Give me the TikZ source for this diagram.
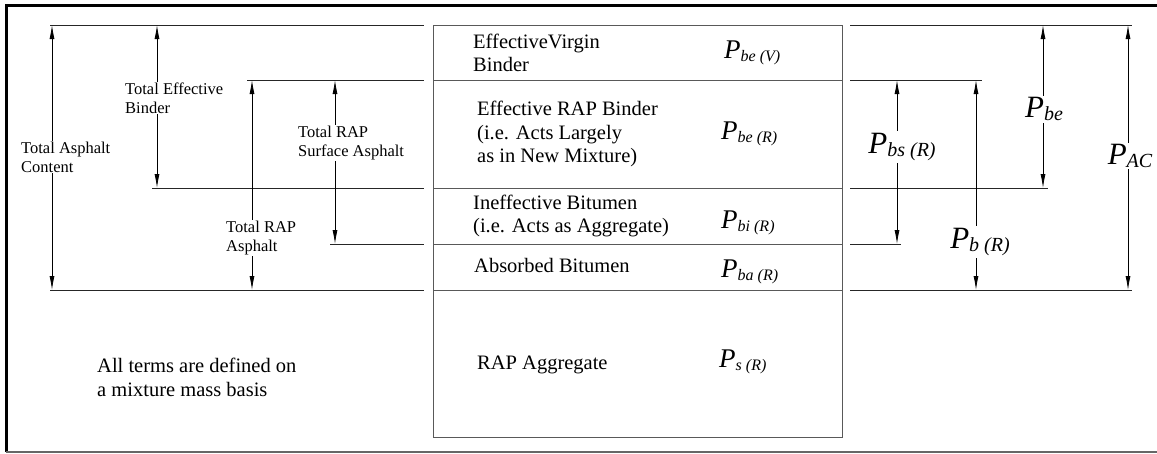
\documentclass[tikz,border=0pt]{standalone}
\usepackage{fontspec}
\setmainfont{Liberation Serif}
\usetikzlibrary{arrows.meta}
\newcommand{\PLab}[3]{{\fontsize{#1}{#1}\selectfont\itshape P}\raisebox{-2.5pt}{\fontsize{#2}{#2}\selectfont\itshape #3}}
\begin{document}
\begin{tikzpicture}[x=1pt,y=-1pt,
  lvl/.style={draw=black!85,line width=1pt},
  boxline/.style={draw=black!65,line width=1pt},
  dim/.style={draw=black,line width=0.8pt,{Latex[length=14pt,width=5pt]}-{Latex[length=14pt,width=5pt]}},
  small/.style={fill=white,inner sep=1pt,align=left,anchor=west,font=\fontsize{16.5}{19}\selectfont},
  boxtext/.style={inner sep=0pt,align=left,anchor=west,font=\fontsize{20.5}{23.5}\selectfont},
  psmall/.style={inner sep=0pt,anchor=west},
  pbig/.style={fill=white,inner sep=2pt,anchor=center}]
\useasboundingbox (0,0) rectangle (1157,453);
% frame
\draw[line width=3pt,black] (6,452) -- (6,5) -- (1157,5);
\draw[black!60,line width=1.2pt] (6,452) -- (1157,452);
% central box
\coordinate (bTL) at (433,25);
\coordinate (bBR) at (842,437);
\draw[boxline] (bTL) rectangle (bBR);
\foreach \yy in {80,188,244,290} {\draw[boxline] (433,\yy) -- (842,\yy);}
% left level lines
\coordinate (LA1) at (50,25);  \coordinate (LA2) at (424,25);
\coordinate (LB1) at (247,80); \coordinate (LB2) at (424,80);
\coordinate (LC1) at (152,188);\coordinate (LC2) at (424,188);
\coordinate (LD1) at (330,244);\coordinate (LD2) at (424,244);
\coordinate (LE1) at (50,290); \coordinate (LE2) at (424,290);
\draw[lvl] (LA1) -- (LA2);
\draw[lvl] (LB1) -- (LB2);
\draw[lvl] (LC1) -- (LC2);
\draw[lvl] (LD1) -- (LD2);
\draw[lvl] (LE1) -- (LE2);
% right level lines
\coordinate (RA1) at (850,25);  \coordinate (RA2) at (1132,25);
\coordinate (RB1) at (850,80);  \coordinate (RB2) at (982,80);
\coordinate (RC1) at (850,188); \coordinate (RC2) at (1048,188);
\coordinate (RD1) at (850,244); \coordinate (RD2) at (901,244);
\coordinate (RE1) at (850,290); \coordinate (RE2) at (1132,290);
\draw[lvl] (RA1) -- (RA2);
\draw[lvl] (RB1) -- (RB2);
\draw[lvl] (RC1) -- (RC2);
\draw[lvl] (RD1) -- (RD2);
\draw[lvl] (RE1) -- (RE2);
% left dimension arrows
\coordinate (a1t) at (52,25);   \coordinate (a1b) at (52,290);
\coordinate (a2t) at (157,25);  \coordinate (a2b) at (157,188);
\coordinate (a3t) at (252,80);  \coordinate (a3b) at (252,290);
\coordinate (a4t) at (335,80);  \coordinate (a4b) at (335,244);
\draw[dim] (a1t) -- (a1b);
\draw[dim] (a2t) -- (a2b);
\draw[dim] (a3t) -- (a3b);
\draw[dim] (a4t) -- (a4b);
\node[small] (tac) at (20,157) {Total Asphalt\\Content};
\node[small] (teb) at (124,98) {Total Effective\\Binder};
\node[small] (tra) at (225,238) {Total RAP\\Asphalt};
\node[small] (trs) at (297,143) {Total RAP\\Surface Asphalt};
% right dimension arrows
\coordinate (b1t) at (897,80);   \coordinate (b1b) at (897,244);
\coordinate (b2t) at (976,80);   \coordinate (b2b) at (976,290);
\coordinate (b3t) at (1043,25);  \coordinate (b3b) at (1043,188);
\coordinate (b4t) at (1128,25);  \coordinate (b4b) at (1128,290);
\draw[dim] (b1t) -- (b1b);
\draw[dim] (b2t) -- (b2b);
\draw[dim] (b3t) -- (b3b);
\draw[dim] (b4t) -- (b4b);
\node[pbig] (pbs) at (902,147) {\PLab{31}{20}{bs (R)}};
\node[pbig] (pb) at (980,242) {\PLab{31}{20}{b (R)}};
\node[pbig] (pbe) at (1044,109) {\PLab{31}{20}{be}};
\node[pbig] (pac) at (1130,156) {\PLab{31}{20}{AC}};
% box texts
\node[boxtext] (t1) at (473,53) {EffectiveVirgin\\Binder};
\node[boxtext] (t2) at (477,134) {Effective RAP Binder\\(i.e. Acts Largely\\as in New Mixture)};
\node[boxtext] (t3) at (473,216) {Ineffective Bitumen\\(i.e. Acts as Aggregate)};
\node[boxtext] (t4) at (474,265) {Absorbed Bitumen};
\node[boxtext] (t5) at (477,365) {RAP Aggregate};
\node[psmall] (p1) at (724,53) {\PLab{27}{16}{be (V)}};
\node[psmall] (p2) at (721,134) {\PLab{27}{16}{be (R)}};
\node[psmall] (p3) at (721,223) {\PLab{27}{16}{bi (R)}};
\node[psmall] (p4) at (721,272) {\PLab{27}{16}{ba (R)}};
\node[psmall] (p5) at (719,362) {\PLab{27}{16}{s (R)}};
% note
\node[anchor=west,align=left,inner sep=0pt,font=\fontsize{20.5}{24}\selectfont] (note) at (97,377) {All terms are defined on\\a mixture mass basis};
\end{tikzpicture}
\end{document}
